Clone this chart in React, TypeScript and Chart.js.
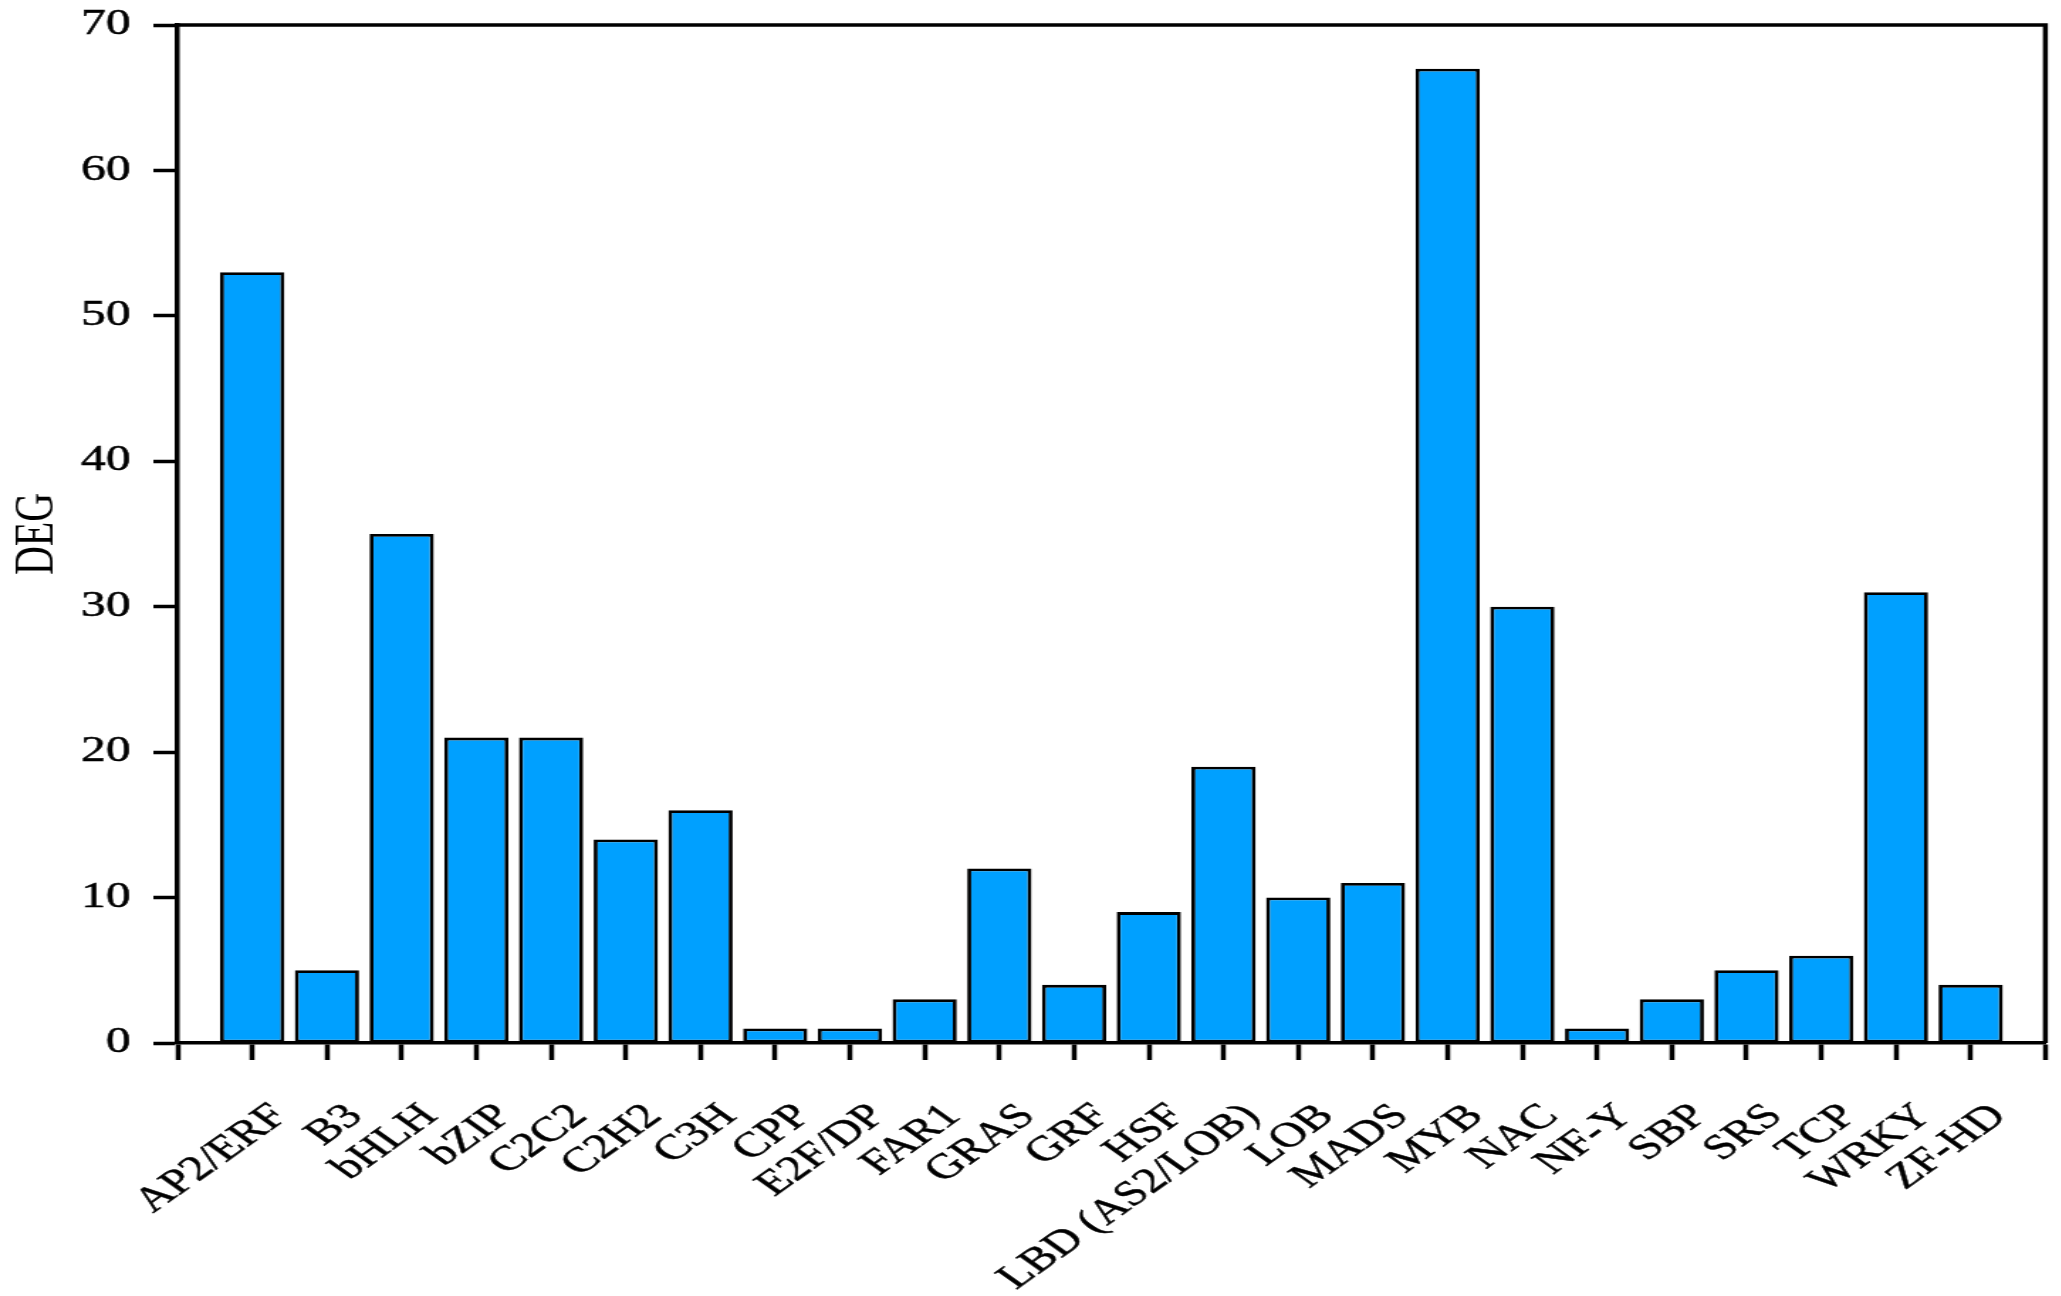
import React, { useEffect, useRef } from "react";
import { Chart, registerables } from "chart.js";

Chart.register(...registerables);

// gene families and number of differentially expressed genes
const families = [
  "AP2/ERF", "B3", "bHLH", "bZIP", "C2C2", "C2H2", "C3H", "CPP", "E2F/DP", "FAR1",
  "GRAS", "GRF", "HSF", "LBD (AS2/LOB)", "LOB", "MADS", "MYB", "NAC", "NF-Y", "SBP",
  "SRS", "TCP", "WRKY", "ZF-HD",
];
const degCounts = [
  53, 5, 35, 21, 21, 14, 16, 1, 1, 3,
  12, 4, 9, 19, 10, 11, 67, 30, 1, 3,
  5, 6, 31, 4,
];
const yTicks = [0, 10, 20, 30, 40, 50, 60, 70];

// the figure is stretched sideways, so the chart is drawn narrow and widened
const STRETCH = 1.42;
const FONT = "'Liberation Serif', 'Times New Roman', serif";

const frame = {
  id: "frame",
  afterDraw(chart: any) {
    const { ctx, chartArea } = chart;
    ctx.save();
    ctx.strokeStyle = "#000";
    ctx.lineWidth = 3.5;
    ctx.beginPath();
    ctx.moveTo(chartArea.left, chartArea.top);
    ctx.lineTo(chartArea.right, chartArea.top);
    ctx.lineTo(chartArea.right, chartArea.bottom);
    ctx.stroke();
    ctx.restore();
  },
};

const DegChart: React.FC = () => {
  const canvasRef = useRef<HTMLCanvasElement | null>(null);

  useEffect(() => {
    if (!canvasRef.current) return;
    const ctx = canvasRef.current.getContext("2d");
    if (!ctx) return;

    const chart = new Chart(ctx, {
      type: "bar",
      data: {
        datasets: [
          {
            label: "DEG",
            data: degCounts.map((v, i) => ({ x: i, y: v })),
            backgroundColor: "#00A0FF",
            borderColor: "#000",
            borderWidth: 2.8,
            borderSkipped: false,
            categoryPercentage: 1,
            barPercentage: 0.86,
          },
        ],
      },
      options: {
        animation: false,
        responsive: true,
        maintainAspectRatio: false,
        layout: { padding: { top: 25, right: 11, bottom: 0, left: 0 } },
        plugins: { legend: { display: false }, tooltip: { enabled: false } },
        scales: {
          x: {
            type: "linear",
            min: -1,
            max: families.length,
            offset: false,
            grid: {
              offset: false,
              drawOnChartArea: false,
              drawTicks: true,
              tickLength: 17,
              tickWidth: 3.5,
              tickColor: "#000",
            },
            border: { display: true, color: "#000", width: 3.5 },
            ticks: {
              stepSize: 1,
              autoSkip: false,
              minRotation: 45,
              maxRotation: 45,
              padding: 36,
              labelOffset: 20,
              color: "#000",
              textStrokeColor: "#000",
              textStrokeWidth: 0.5,
              font: { family: FONT, size: 35 },
              callback: (v: any) => families[v as number] ?? "",
            },
            afterFit: (s: any) => {
              s.height = 253;
              s.paddingLeft = 0;
              s.paddingRight = 0;
            },
          },
          y: {
            min: 0,
            max: 70,
            grid: {
              drawOnChartArea: false,
              drawTicks: true,
              tickLength: 17,
              tickWidth: 3.5,
              tickColor: "#000",
            },
            border: { display: true, color: "#000", width: 3.5 },
            afterBuildTicks: (s: any) => {
              s.ticks = yTicks.map((v) => ({ value: v }));
            },
            ticks: {
              padding: 16,
              color: "#000",
              textStrokeColor: "#000",
              textStrokeWidth: 0.5,
              font: { family: FONT, size: 35 },
            },
            title: {
              display: true,
              text: "DEG",
              color: "#000",
              padding: { top: 2, bottom: 0 },
              font: { family: FONT, size: 40 },
            },
            afterFit: (s: any) => {
              s.width = 125;
              s.paddingTop = 0;
              s.paddingBottom = 0;
            },
          },
        },
      },
      plugins: [frame],
    });

    return () => {
      chart.destroy();
    };
  }, []);

  return (
    <div
      style={{
        position: "absolute",
        left: 0,
        top: 0,
        width: 2061 / STRETCH,
        height: 1296,
        transform: `scaleX(${STRETCH})`,
        transformOrigin: "0 0",
      }}
    >
      <canvas ref={canvasRef} />
    </div>
  );
};

export default function App() {
  return <DegChart />;
}
